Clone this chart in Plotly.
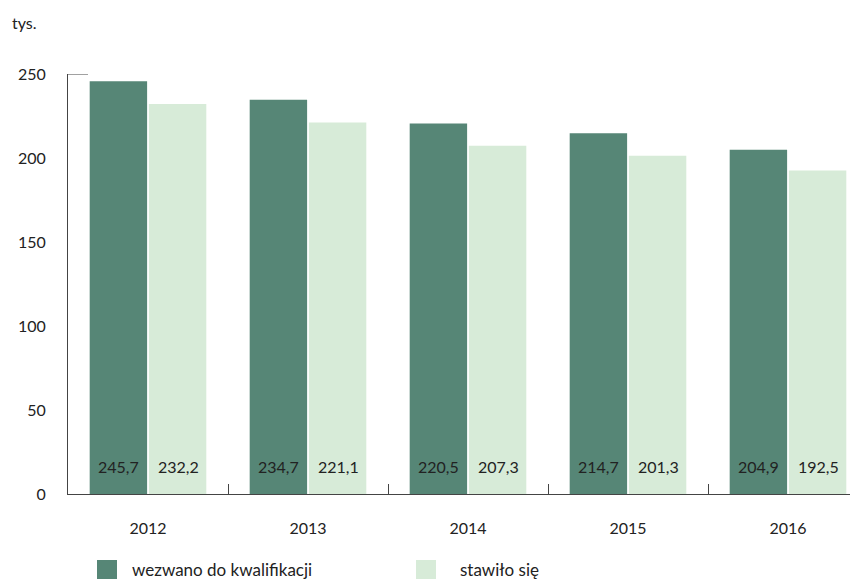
import plotly.graph_objects as go

years = ["2012", "2013", "2014", "2015", "2016"]
wezwano = [245.7, 234.7, 220.5, 214.7, 204.9]
stawilo = [232.2, 221.1, 207.3, 201.3, 192.5]
names = ["wezwano do kwalifikacji", "stawiło się"]
colors = ["#568676", "#d7ebd8"]

W, H = 856, 579
L, R, T, B = 68, 6, 74, 85
pw, ph = W - L - R, H - T - B

fig = go.Figure()
for name, vals, col in zip(names, [wezwano, stawilo], colors):
    fig.add_trace(go.Bar(x=years, y=vals, name=name, marker_color=col,
                         marker_line_width=0, showlegend=False))

# value labels near the bar base
for vals, shift in [(wezwano, -30), (stawilo, 30)]:
    for i, v in enumerate(vals):
        fig.add_annotation(x=i, xref="x", y=0, yref="paper",
                           text=f"{v:.1f}".replace(".", ","),
                           xshift=shift, yshift=16, showarrow=False,
                           font=dict(size=16, color="#222222"))

fig.update_layout(
    width=W, height=H,
    margin=dict(l=L, r=R, t=T, b=B),
    plot_bgcolor="white", paper_bgcolor="white",
    font=dict(family="Lato", size=16, color="#222222"),
    barmode="group", bargap=0.26, bargroupgap=0.03,
)

fig.update_xaxes(
    type="category", range=[-0.5, 4.3875],
    showline=True, linecolor="#444444", linewidth=1,
    ticks="inside", tickson="boundaries", ticklen=10, tickcolor="#444444",
    ticklabelstandoff=20, showgrid=False,
)
fig.update_yaxes(
    range=[0, 250], tickvals=[0, 50, 100, 150, 200, 250],
    showline=True, linecolor="#444444", linewidth=1, showgrid=False,
    ticks="", ticklabelstandoff=18, zeroline=False,
)

# short tick at the top of the y axis
fig.add_shape(type="line", xref="paper", yref="y", x0=0, x1=20 / pw,
              y0=250, y1=250, line=dict(color="#444444", width=1))

fig.add_annotation(text="tys.", xref="paper", yref="paper", x=-(L - 10) / pw,
                   y=1 + 52 / ph, xanchor="left", yanchor="middle",
                   showarrow=False, font=dict(size=16))

# legend drawn by hand to get the larger squares
for (sx, tx), name, col in zip([(97, 130), (416, 458)], names, colors):
    fig.add_shape(type="rect", xref="paper", yref="paper",
                  x0=(sx - L) / pw, x1=(sx + 20 - L) / pw,
                  y0=-(580 - T - ph) / ph, y1=-(560 - T - ph) / ph,
                  fillcolor=col, line_width=0)
    fig.add_annotation(text=name, xref="paper", yref="paper", x=(tx - L) / pw,
                       y=-(569 - T - ph) / ph, xanchor="left", yanchor="middle",
                       showarrow=False, font=dict(size=17))

fig.write_html("out.html", config={"displayModeBar": False},
               post_script="document.body.style.margin='0';")
